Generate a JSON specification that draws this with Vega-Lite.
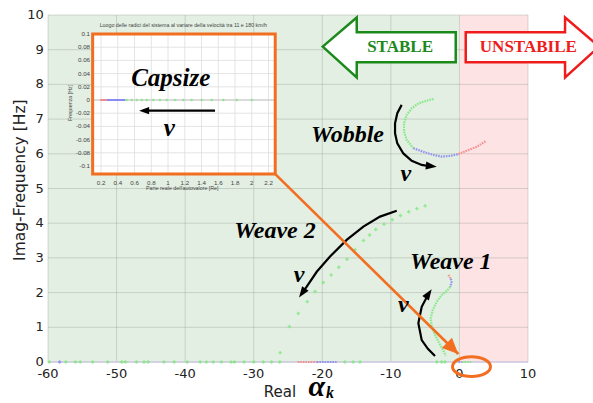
{
  "$schema": "https://vega.github.io/schema/vega-lite/v6.json",
  "width": 480,
  "height": 347,
  "autosize": {"type": "none"},
  "padding": {"left": 48, "top": 15, "right": 65, "bottom": 41},
  "background": "white",
  "config": {"view": {"stroke": null}, "font": "DejaVu Sans"},
  "datasets": {
    "zones": [
      {"zone": "STABLE", "re": -60, "re2": 0},
      {"zone": "UNSTABILE", "re": 0, "re2": 10}
    ],
    "xticks": [{"re": -60}, {"re": -50}, {"re": -40}, {"re": -30}, {"re": -20}, {"re": -10}, {"re": 0}, {"re": 10}],
    "yticks": [{"im": 0}, {"im": 1}, {"im": 2}, {"im": 3}, {"im": 4}, {"im": 5}, {"im": 6}, {"im": 7}, {"im": 8}, {"im": 9}, {"im": 10}],
    "markers": [
      {"mode": "Weave 2", "speed": "low", "re": -5.0, "im": 4.5},
      {"mode": "Weave 2", "speed": "low", "re": -6.2, "im": 4.42},
      {"mode": "Weave 2", "speed": "low", "re": -7.4, "im": 4.33},
      {"mode": "Weave 2", "speed": "low", "re": -8.6, "im": 4.22},
      {"mode": "Weave 2", "speed": "low", "re": -9.8, "im": 4.1},
      {"mode": "Weave 2", "speed": "low", "re": -11.0, "im": 3.97},
      {"mode": "Weave 2", "speed": "low", "re": -12.2, "im": 3.82},
      {"mode": "Weave 2", "speed": "low", "re": -13.1, "im": 3.66},
      {"mode": "Weave 2", "speed": "low", "re": -14.0, "im": 3.5},
      {"mode": "Weave 2", "speed": "low", "re": -15.2, "im": 3.24},
      {"mode": "Weave 2", "speed": "low", "re": -16.4, "im": 2.96},
      {"mode": "Weave 2", "speed": "low", "re": -17.6, "im": 2.73},
      {"mode": "Weave 2", "speed": "low", "re": -18.7, "im": 2.51},
      {"mode": "Weave 2", "speed": "low", "re": -19.85, "im": 2.29},
      {"mode": "Weave 2", "speed": "low", "re": -21.05, "im": 2.03},
      {"mode": "Weave 2", "speed": "low", "re": -22.2, "im": 1.74},
      {"mode": "Weave 2", "speed": "low", "re": -23.5, "im": 1.4},
      {"mode": "Weave 2", "speed": "low", "re": -24.8, "im": 1.02},
      {"mode": "Weave 2", "speed": "low", "re": -26.15, "im": 0.27},
      {"mode": "Real", "speed": "low", "re": -59.8, "im": 0},
      {"mode": "Real", "speed": "mid", "re": -58.3, "im": 0},
      {"mode": "Real", "speed": "low", "re": -57.4, "im": 0},
      {"mode": "Real", "speed": "low", "re": -56.0, "im": 0},
      {"mode": "Real", "speed": "low", "re": -55.3, "im": 0},
      {"mode": "Real", "speed": "low", "re": -53.5, "im": 0},
      {"mode": "Real", "speed": "low", "re": -51.3, "im": 0},
      {"mode": "Real", "speed": "low", "re": -49.25, "im": 0},
      {"mode": "Real", "speed": "low", "re": -48.7, "im": 0},
      {"mode": "Real", "speed": "low", "re": -47.1, "im": 0},
      {"mode": "Real", "speed": "low", "re": -46.0, "im": 0},
      {"mode": "Real", "speed": "low", "re": -45.4, "im": 0},
      {"mode": "Real", "speed": "low", "re": -43.1, "im": 0},
      {"mode": "Real", "speed": "low", "re": -41.6, "im": 0},
      {"mode": "Real", "speed": "low", "re": -39.7, "im": 0},
      {"mode": "Real", "speed": "low", "re": -37.8, "im": 0},
      {"mode": "Real", "speed": "low", "re": -36.9, "im": 0},
      {"mode": "Real", "speed": "low", "re": -35.9, "im": 0},
      {"mode": "Real", "speed": "low", "re": -34.7, "im": 0},
      {"mode": "Real", "speed": "low", "re": -33.3, "im": 0},
      {"mode": "Real", "speed": "low", "re": -32.8, "im": 0},
      {"mode": "Real", "speed": "low", "re": -31.4, "im": 0},
      {"mode": "Real", "speed": "low", "re": -30.0, "im": 0},
      {"mode": "Real", "speed": "low", "re": -28.6, "im": 0},
      {"mode": "Real", "speed": "low", "re": -27.4, "im": 0},
      {"mode": "Real", "speed": "low", "re": -26.2, "im": 0},
      {"mode": "Real", "speed": "low", "re": -16.7, "im": 0},
      {"mode": "Real", "speed": "low", "re": -15.5, "im": 0},
      {"mode": "Real", "speed": "low", "re": -14.5, "im": 0},
      {"mode": "Real", "speed": "low", "re": -3.3, "im": 0},
      {"mode": "Real", "speed": "low", "re": -2.6, "im": 0},
      {"mode": "Real", "speed": "low", "re": -2.1, "im": 0}
    ],
    "loci": [
      {"mode": "Wobble", "speed": "low", "i": 0, "re": -3.79, "im": 7.58},
      {"mode": "Wobble", "speed": "low", "i": 1, "re": -4.77, "im": 7.53},
      {"mode": "Wobble", "speed": "low", "i": 2, "re": -5.99, "im": 7.45},
      {"mode": "Wobble", "speed": "low", "i": 3, "re": -6.96, "im": 7.31},
      {"mode": "Wobble", "speed": "low", "i": 4, "re": -7.69, "im": 7.12},
      {"mode": "Wobble", "speed": "low", "i": 5, "re": -8.08, "im": 6.88},
      {"mode": "Wobble", "speed": "low", "i": 6, "re": -8.08, "im": 6.64},
      {"mode": "Wobble", "speed": "low", "i": 7, "re": -7.69, "im": 6.4},
      {"mode": "Wobble", "speed": "low", "i": 8, "re": -6.72, "im": 6.16},
      {"mode": "Wobble", "speed": "mid", "i": 8, "re": -6.72, "im": 6.16},
      {"mode": "Wobble", "speed": "mid", "i": 9, "re": -5.02, "im": 6.04},
      {"mode": "Wobble", "speed": "mid", "i": 10, "re": -3.81, "im": 5.97},
      {"mode": "Wobble", "speed": "mid", "i": 11, "re": -2.59, "im": 5.92},
      {"mode": "Wobble", "speed": "mid", "i": 12, "re": -1.37, "im": 5.94},
      {"mode": "Wobble", "speed": "mid", "i": 13, "re": -0.16, "im": 5.99},
      {"mode": "Wobble", "speed": "high", "i": 13, "re": -0.16, "im": 5.99},
      {"mode": "Wobble", "speed": "high", "i": 14, "re": 1.06, "im": 6.09},
      {"mode": "Wobble", "speed": "high", "i": 15, "re": 2.52, "im": 6.2},
      {"mode": "Wobble", "speed": "high", "i": 16, "re": 3.88, "im": 6.37},
      {"mode": "Weave 1", "speed": "high", "i": 0, "re": -1.62, "im": 2.51},
      {"mode": "Weave 1", "speed": "high", "i": 1, "re": -1.25, "im": 2.4},
      {"mode": "Weave 1", "speed": "mid", "i": 1, "re": -1.25, "im": 2.4},
      {"mode": "Weave 1", "speed": "mid", "i": 2, "re": -1.15, "im": 2.3},
      {"mode": "Weave 1", "speed": "mid", "i": 3, "re": -1.35, "im": 2.16},
      {"mode": "Weave 1", "speed": "low", "i": 3, "re": -1.35, "im": 2.16},
      {"mode": "Weave 1", "speed": "low", "i": 4, "re": -1.85, "im": 2.05},
      {"mode": "Weave 1", "speed": "low", "i": 5, "re": -2.58, "im": 1.93},
      {"mode": "Weave 1", "speed": "low", "i": 6, "re": -3.31, "im": 1.74},
      {"mode": "Weave 1", "speed": "low", "i": 7, "re": -3.89, "im": 1.5},
      {"mode": "Weave 1", "speed": "low", "i": 8, "re": -4.19, "im": 1.26},
      {"mode": "Weave 1", "speed": "low", "i": 9, "re": -4.04, "im": 1.02},
      {"mode": "Weave 1", "speed": "low", "i": 10, "re": -3.56, "im": 0.78},
      {"mode": "Weave 1", "speed": "low", "i": 11, "re": -2.93, "im": 0.54},
      {"mode": "Weave 1", "speed": "low", "i": 12, "re": -2.35, "im": 0.33},
      {"mode": "Weave 1", "speed": "low", "i": 13, "re": -2.0, "im": 0.18},
      {"mode": "Real root", "speed": "high", "i": 0, "re": -23.6, "im": 0},
      {"mode": "Real root", "speed": "high", "i": 1, "re": -20.8, "im": 0},
      {"mode": "Real root", "speed": "mid", "i": 1, "re": -20.8, "im": 0},
      {"mode": "Real root", "speed": "mid", "i": 2, "re": -17.9, "im": 0},
      {"mode": "Capsize", "speed": "mid", "i": 0, "re": -0.16, "im": 0},
      {"mode": "Capsize", "speed": "mid", "i": 1, "re": 0.33, "im": 0},
      {"mode": "Capsize", "speed": "low", "i": 1, "re": 0.33, "im": 0},
      {"mode": "Capsize", "speed": "low", "i": 2, "re": 1.8, "im": 0}
    ],
    "guides": [
      {"guide": "Wobble", "i": 0, "re": -8.42, "im": 7.41},
      {"guide": "Wobble", "i": 1, "re": -9.06, "im": 7.17},
      {"guide": "Wobble", "i": 2, "re": -9.39, "im": 6.88},
      {"guide": "Wobble", "i": 3, "re": -9.39, "im": 6.59},
      {"guide": "Wobble", "i": 4, "re": -9.06, "im": 6.3},
      {"guide": "Wobble", "i": 5, "re": -8.18, "im": 6.01},
      {"guide": "Wobble", "i": 6, "re": -6.96, "im": 5.8},
      {"guide": "Wobble", "i": 7, "re": -5.5, "im": 5.68},
      {"guide": "Wobble", "i": 8, "re": -4.2, "im": 5.64},
      {"guide": "Weave 2", "i": 0, "re": -9.14, "im": 4.36},
      {"guide": "Weave 2", "i": 1, "re": -11.58, "im": 4.19},
      {"guide": "Weave 2", "i": 2, "re": -14.01, "im": 3.9},
      {"guide": "Weave 2", "i": 3, "re": -16.44, "im": 3.52},
      {"guide": "Weave 2", "i": 4, "re": -18.87, "im": 3.04},
      {"guide": "Weave 2", "i": 5, "re": -20.81, "im": 2.6},
      {"guide": "Weave 2", "i": 6, "re": -22.27, "im": 2.17},
      {"guide": "Weave 2", "i": 7, "re": -22.9, "im": 2.0},
      {"guide": "Weave 1", "i": 0, "re": -3.56, "im": 0.17},
      {"guide": "Weave 1", "i": 1, "re": -4.6, "im": 0.38},
      {"guide": "Weave 1", "i": 2, "re": -5.5, "im": 0.63},
      {"guide": "Weave 1", "i": 3, "re": -5.99, "im": 1.12},
      {"guide": "Weave 1", "i": 4, "re": -5.5, "im": 1.59},
      {"guide": "Weave 1", "i": 5, "re": -4.6, "im": 1.93}
    ],
    "heads": [
      {"guide": "Wobble", "re": -3.3, "im": 5.63},
      {"guide": "Weave 2", "re": -23.39, "im": 1.86},
      {"guide": "Weave 1", "re": -4.04, "im": 2.1}
    ],
    "pointer": [
      {"i": 0, "re": -26.89, "im": 5.42},
      {"i": 1, "re": -0.16, "im": 0.23}
    ],
    "focus": [{"re": 1.76, "im": -0.135}],
    "arrows": [
      {"side": "STABLE", "re": -19.94, "top": 9.09, "bottom": 9.09},
      {"side": "STABLE", "re": -14.98, "top": 9.93, "bottom": 8.2},
      {"side": "STABLE", "re": -14.97, "top": 9.5, "bottom": 8.64},
      {"side": "STABLE", "re": -0.54, "top": 9.5, "bottom": 8.64},
      {"side": "UNSTABILE", "re": 0.92, "top": 9.5, "bottom": 8.64},
      {"side": "UNSTABILE", "re": 15.4, "top": 9.5, "bottom": 8.64},
      {"side": "UNSTABILE", "re": 15.41, "top": 9.93, "bottom": 8.2},
      {"side": "UNSTABILE", "re": 20.36, "top": 9.09, "bottom": 9.09}
    ],
    "zoneLabels": [
      {"zone": "STABLE", "re": -8.66, "im": 9.09},
      {"zone": "UNSTABILE", "re": 10.05, "im": 9.09}
    ],
    "notes": [
      {"note": "Wobble", "re": -16.32, "im": 6.54},
      {"note": "Weave 2", "re": -26.9, "im": 3.78},
      {"note": "Weave 1", "re": -1.25, "im": 2.89}
    ],
    "vnotes": [
      {"note": "v", "re": -7.82, "im": 5.42},
      {"note": "v", "re": -23.39, "im": 2.51},
      {"note": "v", "re": -8.18, "im": 1.64}
    ],
    "xTitle": [
      {"part": "Real", "re": -26.16, "im": -0.86},
      {"part": "α", "re": -20.8, "im": -0.98},
      {"part": "k", "re": -18.87, "im": -1.04}
    ],
    "yTitle": [{"title": "Imag-Frequency [Hz]", "re": -64.1, "im": 5.24}],
    "insetFrame": [{"re": 0.1, "re2": 2.28, "im": -0.112, "im2": 0.1}],
    "insetX": [{"re": 0.2}, {"re": 0.4}, {"re": 0.6}, {"re": 0.8}, {"re": 1}, {"re": 1.2}, {"re": 1.4}, {"re": 1.6}, {"re": 1.8}, {"re": 2}, {"re": 2.2}],
    "insetY": [{"im": 0.1}, {"im": 0.08}, {"im": 0.06}, {"im": 0.04}, {"im": 0.02}, {"im": 0}, {"im": -0.02}, {"im": -0.04}, {"im": -0.06}, {"im": -0.08}, {"im": -0.1}],
    "insetLoci": [
      {"speed": "high", "i": 0, "re": 0.19, "im": 0},
      {"speed": "high", "i": 1, "re": 0.27, "im": 0},
      {"speed": "mid", "i": 1, "re": 0.27, "im": 0},
      {"speed": "mid", "i": 2, "re": 0.49, "im": 0}
    ],
    "insetMarkers": [
      {"re": 0.507, "im": 0}, {"re": 0.567, "im": 0}, {"re": 0.627, "im": 0}, {"re": 0.687, "im": 0},
      {"re": 0.746, "im": 0}, {"re": 0.824, "im": 0}, {"re": 0.904, "im": 0}, {"re": 0.984, "im": 0},
      {"re": 1.083, "im": 0}, {"re": 1.183, "im": 0}, {"re": 1.283, "im": 0}, {"re": 1.402, "im": 0},
      {"re": 1.522, "im": 0}, {"re": 1.661, "im": 0}, {"re": 1.82, "im": 0}, {"re": 2.0, "im": 0}
    ],
    "insetNotes": [
      {"note": "Capsize", "re": 1.033, "im": 0.0329},
      {"note": "v", "re": 1.014, "im": -0.043}
    ],
    "insetGuide": [
      {"i": 0, "re": 1.561, "im": -0.0162},
      {"i": 1, "re": 0.7, "im": -0.0162}
    ],
    "insetHead": [{"re": 0.655, "im": -0.0162}],
    "insetTitles": [
      {"part": "title", "text": "Luogo delle radici del sistema al variare della velocità tra 11 e 180 km/h", "re": 1.183, "im": 0.1136},
      {"part": "x", "text": "Parte reale dell'autovalore [Re]", "re": 1.17, "im": -0.134},
      {"part": "y", "text": "Frequenza [Hz]", "re": -0.17, "im": -0.0045}
    ]
  },
  "layer": [
    {
      "layer": [
        {
          "data": {"name": "zones"},
          "mark": {"type": "rect"},
          "encoding": {
            "x": {"field": "re", "type": "quantitative", "scale": {"domain": [-60, 10], "nice": false, "zero": false}, "axis": null},
            "x2": {"field": "re2"},
            "y": {"datum": 0, "type": "quantitative", "scale": {"domain": [0, 10], "nice": false, "zero": false}, "axis": null},
            "y2": {"datum": 10},
            "fill": {"field": "zone", "type": "nominal", "scale": {"domain": ["STABLE", "UNSTABILE"], "range": ["#e3efe3", "#fde3e3"]}, "legend": null}
          }
        },
        {
          "data": {"name": "xticks"},
          "mark": {"type": "rule", "color": "#8f9a8f", "opacity": 0.35, "strokeWidth": 1},
          "encoding": {
            "x": {"field": "re", "type": "quantitative", "scale": {"domain": [-60, 10], "nice": false, "zero": false}, "axis": null},
            "y": {"datum": 0, "type": "quantitative", "scale": {"domain": [0, 10], "nice": false, "zero": false}, "axis": null},
            "y2": {"datum": 10}
          }
        },
        {
          "data": {"name": "yticks"},
          "mark": {"type": "rule", "color": "#8f9a8f", "opacity": 0.35, "strokeWidth": 1},
          "encoding": {
            "y": {"field": "im", "type": "quantitative", "scale": {"domain": [0, 10], "nice": false, "zero": false}, "axis": null},
            "x": {"datum": -60, "type": "quantitative", "scale": {"domain": [-60, 10], "nice": false, "zero": false}, "axis": null},
            "x2": {"datum": 10}
          }
        },
        {
          "data": {"name": "xticks"},
          "mark": {"type": "text", "font": "DejaVu Sans", "fontSize": 13, "color": "#222"},
          "encoding": {
            "x": {"field": "re", "type": "quantitative", "scale": {"domain": [-60, 10], "nice": false, "zero": false}, "axis": null},
            "y": {"datum": -0.35, "type": "quantitative", "scale": {"domain": [0, 10], "nice": false, "zero": false}, "axis": null},
            "text": {"field": "re", "type": "nominal"}
          }
        },
        {
          "data": {"name": "yticks"},
          "mark": {"type": "text", "font": "DejaVu Sans", "fontSize": 13, "color": "#222", "align": "right"},
          "encoding": {
            "y": {"field": "im", "type": "quantitative", "scale": {"domain": [0, 10], "nice": false, "zero": false}, "axis": null},
            "x": {"datum": -60.6, "type": "quantitative", "scale": {"domain": [-60, 10], "nice": false, "zero": false}, "axis": null},
            "text": {"field": "im", "type": "nominal"}
          }
        },
        {
          "data": {"name": "yTitle"},
          "mark": {"type": "text", "font": "DejaVu Sans", "fontSize": 15.5, "color": "#222", "angle": 270},
          "encoding": {
            "x": {"field": "re", "type": "quantitative", "scale": {"domain": [-60, 10], "nice": false, "zero": false}, "axis": null},
            "y": {"field": "im", "type": "quantitative", "scale": {"domain": [0, 10], "nice": false, "zero": false}, "axis": null},
            "text": {"field": "title"}
          }
        },
        {
          "data": {"name": "yticks"},
          "transform": [{"filter": "datum.im === 0"}],
          "mark": {"type": "rule", "color": "#cfcbe3", "strokeWidth": 1.5},
          "encoding": {
            "y": {"field": "im", "type": "quantitative", "scale": {"domain": [0, 10], "nice": false, "zero": false}, "axis": null},
            "x": {"datum": -60, "type": "quantitative", "scale": {"domain": [-60, 10], "nice": false, "zero": false}, "axis": null},
            "x2": {"datum": 10}
          }
        },
        {
          "data": {"name": "markers"},
          "mark": {"type": "point", "shape": "cross", "filled": true, "size": 12, "opacity": 0.8},
          "encoding": {
            "x": {"field": "re", "type": "quantitative", "scale": {"domain": [-60, 10], "nice": false, "zero": false}, "axis": null},
            "y": {"field": "im", "type": "quantitative", "scale": {"domain": [0, 10], "nice": false, "zero": false}, "axis": null},
            "color": {"field": "speed", "type": "nominal", "scale": {"domain": ["low", "mid", "high"], "range": ["#7de87d", "#8a8af2", "#f58a8a"]}, "legend": null}
          }
        },
        {
          "data": {"name": "loci"},
          "mark": {"type": "line", "strokeWidth": 2.2, "strokeDash": [1.6, 1], "opacity": 0.9},
          "encoding": {
            "x": {"field": "re", "type": "quantitative", "scale": {"domain": [-60, 10], "nice": false, "zero": false}, "axis": null},
            "y": {"field": "im", "type": "quantitative", "scale": {"domain": [0, 10], "nice": false, "zero": false}, "axis": null},
            "stroke": {"field": "speed", "type": "nominal", "scale": {"domain": ["low", "mid", "high"], "range": ["#7de87d", "#8a8af2", "#f58a8a"]}, "legend": null},
            "detail": {"field": "mode"},
            "order": {"field": "i", "type": "quantitative"}
          }
        },
        {
          "data": {"name": "guides"},
          "mark": {"type": "line", "color": "black", "strokeWidth": 2.2},
          "encoding": {
            "x": {"field": "re", "type": "quantitative", "scale": {"domain": [-60, 10], "nice": false, "zero": false}, "axis": null},
            "y": {"field": "im", "type": "quantitative", "scale": {"domain": [0, 10], "nice": false, "zero": false}, "axis": null},
            "detail": {"field": "guide"},
            "order": {"field": "i", "type": "quantitative"}
          }
        },
        {
          "data": {"name": "heads"},
          "transform": [{"filter": "datum.guide === 'Wobble'"}],
          "mark": {"type": "point", "shape": "M0,0L-1,-0.36L-1,0.36Z", "filled": true, "color": "black", "opacity": 1, "size": 484, "angle": 6},
          "encoding": {
            "x": {"field": "re", "type": "quantitative", "scale": {"domain": [-60, 10], "nice": false, "zero": false}, "axis": null},
            "y": {"field": "im", "type": "quantitative", "scale": {"domain": [0, 10], "nice": false, "zero": false}, "axis": null}
          }
        },
        {
          "data": {"name": "heads"},
          "transform": [{"filter": "datum.guide === 'Weave 2'"}],
          "mark": {"type": "point", "shape": "M0,0L-1,-0.36L-1,0.36Z", "filled": true, "color": "black", "opacity": 1, "size": 484, "angle": 125},
          "encoding": {
            "x": {"field": "re", "type": "quantitative", "scale": {"domain": [-60, 10], "nice": false, "zero": false}, "axis": null},
            "y": {"field": "im", "type": "quantitative", "scale": {"domain": [0, 10], "nice": false, "zero": false}, "axis": null}
          }
        },
        {
          "data": {"name": "heads"},
          "transform": [{"filter": "datum.guide === 'Weave 1'"}],
          "mark": {"type": "point", "shape": "M0,0L-1,-0.36L-1,0.36Z", "filled": true, "color": "black", "opacity": 1, "size": 484, "angle": 304},
          "encoding": {
            "x": {"field": "re", "type": "quantitative", "scale": {"domain": [-60, 10], "nice": false, "zero": false}, "axis": null},
            "y": {"field": "im", "type": "quantitative", "scale": {"domain": [0, 10], "nice": false, "zero": false}, "axis": null}
          }
        },
        {
          "data": {"name": "pointer"},
          "mark": {"type": "line", "color": "#f26f21", "strokeWidth": 2.6},
          "encoding": {
            "x": {"field": "re", "type": "quantitative", "scale": {"domain": [-60, 10], "nice": false, "zero": false}, "axis": null},
            "y": {"field": "im", "type": "quantitative", "scale": {"domain": [0, 10], "nice": false, "zero": false}, "axis": null},
            "order": {"field": "i", "type": "quantitative"}
          }
        },
        {
          "data": {"name": "pointer"},
          "transform": [{"filter": "datum.i === 1"}],
          "mark": {"type": "point", "shape": "M0,0L-1,-0.45L-1,0.45Z", "filled": true, "color": "#f26f21", "opacity": 1, "size": 1024, "angle": 44.5},
          "encoding": {
            "x": {"field": "re", "type": "quantitative", "scale": {"domain": [-60, 10], "nice": false, "zero": false}, "axis": null},
            "y": {"field": "im", "type": "quantitative", "scale": {"domain": [0, 10], "nice": false, "zero": false}, "axis": null}
          }
        },
        {
          "data": {"name": "focus"},
          "mark": {"type": "point", "shape": "M-1,0A1,0.52 0 1,1 1,0A1,0.52 0 1,1 -1,0Z", "filled": false, "color": "#f26f21", "strokeWidth": 3, "opacity": 1, "size": 1444},
          "encoding": {
            "x": {"field": "re", "type": "quantitative", "scale": {"domain": [-60, 10], "nice": false, "zero": false}, "axis": null},
            "y": {"field": "im", "type": "quantitative", "scale": {"domain": [0, 10], "nice": false, "zero": false}, "axis": null}
          }
        },
        {
          "data": {"name": "arrows"},
          "transform": [{"filter": "datum.side === 'STABLE'"}],
          "mark": {"type": "area", "fill": "white", "stroke": "#1b8a1b", "strokeWidth": 2.5, "opacity": 1},
          "encoding": {
            "x": {"field": "re", "type": "quantitative", "scale": {"domain": [-60, 10], "nice": false, "zero": false}, "axis": null},
            "y": {"field": "top", "type": "quantitative", "scale": {"domain": [0, 10], "nice": false, "zero": false}, "axis": null},
            "y2": {"field": "bottom"}
          }
        },
        {
          "data": {"name": "arrows"},
          "transform": [{"filter": "datum.side === 'UNSTABILE'"}],
          "mark": {"type": "area", "fill": "white", "stroke": "#ee1c1c", "strokeWidth": 2.5, "opacity": 1},
          "encoding": {
            "x": {"field": "re", "type": "quantitative", "scale": {"domain": [-60, 10], "nice": false, "zero": false}, "axis": null},
            "y": {"field": "top", "type": "quantitative", "scale": {"domain": [0, 10], "nice": false, "zero": false}, "axis": null},
            "y2": {"field": "bottom"}
          }
        },
        {
          "data": {"name": "zoneLabels"},
          "transform": [{"filter": "datum.zone === 'STABLE'"}],
          "mark": {"type": "text", "font": "Liberation Serif", "fontWeight": "bold", "fontSize": 17, "color": "#1b8a1b"},
          "encoding": {
            "x": {"field": "re", "type": "quantitative", "scale": {"domain": [-60, 10], "nice": false, "zero": false}, "axis": null},
            "y": {"field": "im", "type": "quantitative", "scale": {"domain": [0, 10], "nice": false, "zero": false}, "axis": null},
            "text": {"field": "zone"}
          }
        },
        {
          "data": {"name": "zoneLabels"},
          "transform": [{"filter": "datum.zone === 'UNSTABILE'"}],
          "mark": {"type": "text", "font": "Liberation Serif", "fontWeight": "bold", "fontSize": 17, "color": "#ee1c1c"},
          "encoding": {
            "x": {"field": "re", "type": "quantitative", "scale": {"domain": [-60, 10], "nice": false, "zero": false}, "axis": null},
            "y": {"field": "im", "type": "quantitative", "scale": {"domain": [0, 10], "nice": false, "zero": false}, "axis": null},
            "text": {"field": "zone"}
          }
        },
        {
          "data": {"name": "notes"},
          "mark": {"type": "text", "font": "Liberation Serif", "fontWeight": "bold", "fontStyle": "italic", "fontSize": 24, "color": "black"},
          "encoding": {
            "x": {"field": "re", "type": "quantitative", "scale": {"domain": [-60, 10], "nice": false, "zero": false}, "axis": null},
            "y": {"field": "im", "type": "quantitative", "scale": {"domain": [0, 10], "nice": false, "zero": false}, "axis": null},
            "text": {"field": "note"}
          }
        },
        {
          "data": {"name": "vnotes"},
          "mark": {"type": "text", "font": "Liberation Serif", "fontWeight": "bold", "fontStyle": "italic", "fontSize": 24, "color": "black"},
          "encoding": {
            "x": {"field": "re", "type": "quantitative", "scale": {"domain": [-60, 10], "nice": false, "zero": false}, "axis": null},
            "y": {"field": "im", "type": "quantitative", "scale": {"domain": [0, 10], "nice": false, "zero": false}, "axis": null},
            "text": {"field": "note"}
          }
        },
        {
          "data": {"name": "xTitle"},
          "transform": [{"filter": "datum.part === 'Real'"}],
          "mark": {"type": "text", "font": "DejaVu Sans", "fontSize": 15, "color": "#222"},
          "encoding": {
            "x": {"field": "re", "type": "quantitative", "scale": {"domain": [-60, 10], "nice": false, "zero": false}, "axis": null},
            "y": {"field": "im", "type": "quantitative", "scale": {"domain": [0, 10], "nice": false, "zero": false}, "axis": null},
            "text": {"field": "part"}
          }
        },
        {
          "data": {"name": "xTitle"},
          "transform": [{"filter": "datum.part === 'α'"}],
          "mark": {"type": "text", "font": "Liberation Serif", "fontWeight": "bold", "fontStyle": "italic", "fontSize": 30, "baseline": "alphabetic", "color": "black"},
          "encoding": {
            "x": {"field": "re", "type": "quantitative", "scale": {"domain": [-60, 10], "nice": false, "zero": false}, "axis": null},
            "y": {"field": "im", "type": "quantitative", "scale": {"domain": [0, 10], "nice": false, "zero": false}, "axis": null},
            "text": {"field": "part"}
          }
        },
        {
          "data": {"name": "xTitle"},
          "transform": [{"filter": "datum.part === 'k'"}],
          "mark": {"type": "text", "font": "Liberation Serif", "fontWeight": "bold", "fontStyle": "italic", "fontSize": 16, "baseline": "alphabetic", "color": "black"},
          "encoding": {
            "x": {"field": "re", "type": "quantitative", "scale": {"domain": [-60, 10], "nice": false, "zero": false}, "axis": null},
            "y": {"field": "im", "type": "quantitative", "scale": {"domain": [0, 10], "nice": false, "zero": false}, "axis": null},
            "text": {"field": "part"}
          }
        }
      ]
    },
    {
      "layer": [
        {
          "data": {"name": "insetFrame"},
          "mark": {"type": "rect", "fill": "white"},
          "encoding": {
            "x": {"field": "re", "type": "quantitative", "scale": {"domain": [-0.433, 5.298], "nice": false, "zero": false}, "axis": null},
            "x2": {"field": "re2"},
            "y": {"field": "im", "type": "quantitative", "scale": {"domain": [-0.397, 0.1288], "nice": false, "zero": false}, "axis": null},
            "y2": {"field": "im2"}
          }
        },
        {
          "data": {"name": "insetX"},
          "mark": {"type": "rule", "color": "#dddddd", "strokeWidth": 0.8},
          "encoding": {
            "x": {"field": "re", "type": "quantitative", "scale": {"domain": [-0.433, 5.298], "nice": false, "zero": false}, "axis": null},
            "y": {"datum": -0.112, "type": "quantitative", "scale": {"domain": [-0.397, 0.1288], "nice": false, "zero": false}, "axis": null},
            "y2": {"datum": 0.1}
          }
        },
        {
          "data": {"name": "insetY"},
          "mark": {"type": "rule", "color": "#dddddd", "strokeWidth": 0.8},
          "encoding": {
            "y": {"field": "im", "type": "quantitative", "scale": {"domain": [-0.397, 0.1288], "nice": false, "zero": false}, "axis": null},
            "x": {"datum": 0.1, "type": "quantitative", "scale": {"domain": [-0.433, 5.298], "nice": false, "zero": false}, "axis": null},
            "x2": {"datum": 2.28}
          }
        },
        {
          "data": {"name": "insetY"},
          "transform": [{"filter": "datum.im === 0"}],
          "mark": {"type": "rule", "color": "#c4c4c4", "strokeWidth": 1.2},
          "encoding": {
            "y": {"field": "im", "type": "quantitative", "scale": {"domain": [-0.397, 0.1288], "nice": false, "zero": false}, "axis": null},
            "x": {"datum": 0.1, "type": "quantitative", "scale": {"domain": [-0.433, 5.298], "nice": false, "zero": false}, "axis": null},
            "x2": {"datum": 2.28}
          }
        },
        {
          "data": {"name": "insetLoci"},
          "mark": {"type": "line", "strokeWidth": 2},
          "encoding": {
            "x": {"field": "re", "type": "quantitative", "scale": {"domain": [-0.433, 5.298], "nice": false, "zero": false}, "axis": null},
            "y": {"field": "im", "type": "quantitative", "scale": {"domain": [-0.397, 0.1288], "nice": false, "zero": false}, "axis": null},
            "stroke": {"field": "speed", "type": "nominal", "scale": {"domain": ["low", "mid", "high"], "range": ["#7de87d", "#8a8af2", "#f58a8a"]}, "legend": null},
            "order": {"field": "i", "type": "quantitative"}
          }
        },
        {
          "data": {"name": "insetMarkers"},
          "mark": {"type": "point", "shape": "cross", "filled": true, "size": 7, "color": "#7de87d", "opacity": 0.9},
          "encoding": {
            "x": {"field": "re", "type": "quantitative", "scale": {"domain": [-0.433, 5.298], "nice": false, "zero": false}, "axis": null},
            "y": {"field": "im", "type": "quantitative", "scale": {"domain": [-0.397, 0.1288], "nice": false, "zero": false}, "axis": null}
          }
        },
        {
          "data": {"name": "insetFrame"},
          "mark": {"type": "rect", "fillOpacity": 0, "stroke": "#f26f21", "strokeWidth": 3},
          "encoding": {
            "x": {"field": "re", "type": "quantitative", "scale": {"domain": [-0.433, 5.298], "nice": false, "zero": false}, "axis": null},
            "x2": {"field": "re2"},
            "y": {"field": "im", "type": "quantitative", "scale": {"domain": [-0.397, 0.1288], "nice": false, "zero": false}, "axis": null},
            "y2": {"field": "im2"}
          }
        },
        {
          "data": {"name": "insetGuide"},
          "mark": {"type": "line", "color": "black", "strokeWidth": 2.2},
          "encoding": {
            "x": {"field": "re", "type": "quantitative", "scale": {"domain": [-0.433, 5.298], "nice": false, "zero": false}, "axis": null},
            "y": {"field": "im", "type": "quantitative", "scale": {"domain": [-0.397, 0.1288], "nice": false, "zero": false}, "axis": null},
            "order": {"field": "i", "type": "quantitative"}
          }
        },
        {
          "data": {"name": "insetHead"},
          "mark": {"type": "point", "shape": "M0,0L-1,-0.36L-1,0.36Z", "filled": true, "color": "black", "opacity": 1, "size": 400, "angle": 180},
          "encoding": {
            "x": {"field": "re", "type": "quantitative", "scale": {"domain": [-0.433, 5.298], "nice": false, "zero": false}, "axis": null},
            "y": {"field": "im", "type": "quantitative", "scale": {"domain": [-0.397, 0.1288], "nice": false, "zero": false}, "axis": null}
          }
        },
        {
          "data": {"name": "insetNotes"},
          "mark": {"type": "text", "font": "Liberation Serif", "fontWeight": "bold", "fontStyle": "italic", "fontSize": 25, "color": "black"},
          "encoding": {
            "x": {"field": "re", "type": "quantitative", "scale": {"domain": [-0.433, 5.298], "nice": false, "zero": false}, "axis": null},
            "y": {"field": "im", "type": "quantitative", "scale": {"domain": [-0.397, 0.1288], "nice": false, "zero": false}, "axis": null},
            "text": {"field": "note"}
          }
        },
        {
          "data": {"name": "insetX"},
          "mark": {"type": "text", "font": "Liberation Sans", "fontSize": 6.2, "color": "#444"},
          "encoding": {
            "x": {"field": "re", "type": "quantitative", "scale": {"domain": [-0.433, 5.298], "nice": false, "zero": false}, "axis": null},
            "y": {"datum": -0.1253, "type": "quantitative", "scale": {"domain": [-0.397, 0.1288], "nice": false, "zero": false}, "axis": null},
            "text": {"field": "re", "type": "nominal"}
          }
        },
        {
          "data": {"name": "insetY"},
          "mark": {"type": "text", "font": "Liberation Sans", "fontSize": 6.2, "color": "#444", "align": "right"},
          "encoding": {
            "y": {"field": "im", "type": "quantitative", "scale": {"domain": [-0.397, 0.1288], "nice": false, "zero": false}, "axis": null},
            "x": {"datum": 0.069, "type": "quantitative", "scale": {"domain": [-0.433, 5.298], "nice": false, "zero": false}, "axis": null},
            "text": {"field": "im", "type": "nominal"}
          }
        },
        {
          "data": {"name": "insetTitles"},
          "transform": [{"filter": "datum.part !== 'y'"}],
          "mark": {"type": "text", "font": "Liberation Sans", "fontSize": 5.3, "color": "#444"},
          "encoding": {
            "x": {"field": "re", "type": "quantitative", "scale": {"domain": [-0.433, 5.298], "nice": false, "zero": false}, "axis": null},
            "y": {"field": "im", "type": "quantitative", "scale": {"domain": [-0.397, 0.1288], "nice": false, "zero": false}, "axis": null},
            "text": {"field": "text"}
          }
        },
        {
          "data": {"name": "insetTitles"},
          "transform": [{"filter": "datum.part === 'y'"}],
          "mark": {"type": "text", "font": "Liberation Sans", "fontSize": 5.3, "color": "#444", "angle": 270},
          "encoding": {
            "x": {"field": "re", "type": "quantitative", "scale": {"domain": [-0.433, 5.298], "nice": false, "zero": false}, "axis": null},
            "y": {"field": "im", "type": "quantitative", "scale": {"domain": [-0.397, 0.1288], "nice": false, "zero": false}, "axis": null},
            "text": {"field": "text"}
          }
        }
      ]
    }
  ],
  "resolve": {"scale": {"x": "independent", "y": "independent"}}
}
